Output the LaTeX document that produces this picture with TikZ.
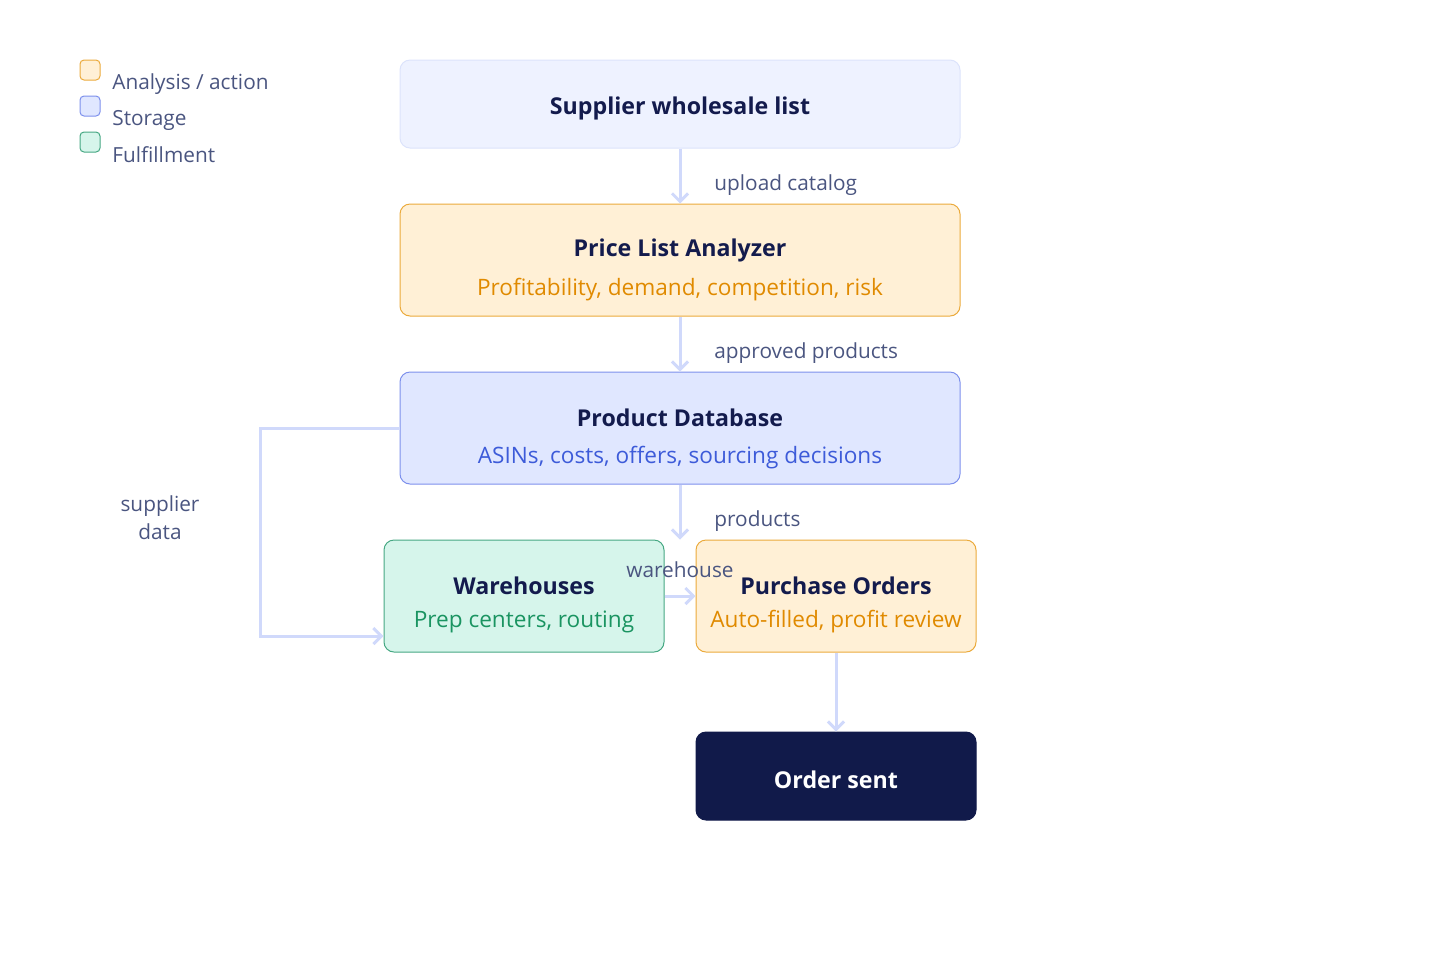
\documentclass[tikz,border=0pt]{standalone}
\usepackage{fontspec}
\setmainfont{Open Sans}
\usetikzlibrary{arrows.meta}
\definecolor{ink}{HTML}{131B4D}
\definecolor{muted}{HTML}{4A5580}
\definecolor{flow}{HTML}{D0D9FB}
\definecolor{orangefill}{HTML}{FFF0D6}
\definecolor{orangeline}{HTML}{EBAA3C}
\definecolor{orangetext}{HTML}{E08A00}
\definecolor{bluefill}{HTML}{E0E7FF}
\definecolor{blueline}{HTML}{7D90EC}
\definecolor{bluetext}{HTML}{3D5BD9}
\definecolor{greenfill}{HTML}{D6F5EB}
\definecolor{greenline}{HTML}{46A883}
\definecolor{greentext}{HTML}{1A9461}
\definecolor{palefill}{HTML}{EEF2FF}
\definecolor{paleline}{HTML}{DCE3FB}
\definecolor{navy}{HTML}{111A4A}
\begin{document}
\begin{tikzpicture}[
    x=0.5pt, y=-0.5pt,
    every node/.style={inner sep=0pt},
    box/.style={draw, rounded corners=5pt, line width=0.5pt},
    title/.style={font=\fontsize{11.6}{14}\selectfont\bfseries, text=ink},
    sub/.style={font=\fontsize{11.3}{13}\selectfont},
    lbl/.style={font=\fontsize{10.4}{14}\selectfont, text=muted},
    flowline/.style={draw=flow, line width=1.5pt, -{Straight Barb[length=4pt,width=8pt]}}
]
\useasboundingbox (0,0) rectangle (1440,960);

% Legend
\node[box, fill=orangefill, draw=orangeline, minimum size=10pt, rounded corners=2pt] (k1) at (90,70) {};
\node[box, fill=bluefill, draw=blueline, minimum size=10pt, rounded corners=2pt] (k2) at (90,106) {};
\node[box, fill=greenfill, draw=greenline, minimum size=10pt, rounded corners=2pt] (k3) at (90,142) {};
\node[lbl, anchor=west] (k1t) at (112,84) {Analysis / action};
\node[lbl, anchor=west] (k2t) at (112,120) {Storage};
\node[lbl, anchor=west] (k3t) at (112,155) {Fulfillment};

% Boxes
\node[box, fill=palefill, draw=paleline, minimum width=280pt, minimum height=44pt] (supplier) at (680,104) {};
\node[box, fill=orangefill, draw=orangeline, minimum width=280pt, minimum height=56pt] (analyzer) at (680,260) {};
\node[box, fill=bluefill, draw=blueline, minimum width=280pt, minimum height=56pt] (database) at (680,428) {};
\node[box, fill=greenfill, draw=greenline, minimum width=140pt, minimum height=56pt] (warehouses) at (524,596) {};
\node[box, fill=orangefill, draw=orangeline, minimum width=140pt, minimum height=56pt] (orders) at (836,596) {};
\node[box, fill=navy, draw=navy, minimum width=140pt, minimum height=44pt] (sent) at (836,776) {};

% Box texts
\node[title] (supplierT) at (680,108) {Supplier wholesale list};
\node[title] (analyzerT) at (680,250) {Price List Analyzer};
\node[sub, text=orangetext] (analyzerS) at (680,290) {Profitability, demand, competition, risk};
\node[title] (databaseT) at (680,418) {Product Database};
\node[sub, text=bluetext] (databaseS) at (680,458) {ASINs, costs, offers, sourcing decisions};
\node[title] (warehousesT) at (524,586) {Warehouses};
\node[sub, text=greentext] (warehousesS) at (524,622) {Prep centers, routing};
\node[title] (ordersT) at (836,586) {Purchase Orders};
\node[sub, text=orangetext] (ordersS) at (836,622) {Auto-filled, profit review};
\node[title, text=white] (sentT) at (836,780) {Order sent};

% Connectors
\draw[flowline] (supplier) -- (analyzer);
\draw[flowline] (analyzer) -- (database);
\draw[flowline] (database.south) -- (database.south |- warehouses.north);
\draw[flowline] (warehouses) -- (orders);
\draw[flowline] (orders) -- (sent);
\draw[flowline] (database.west) -- (260,428) -- (260,636) -- (warehouses.west |- 0,636);

% Connector labels
\node[lbl, anchor=west] (l1) at (714,185) {upload catalog};
\node[lbl, anchor=west] (l2) at (714,353) {approved products};
\node[lbl, anchor=west] (l3) at (714,521) {products};
\node[lbl] (l4) at (680,570) {warehouse};
\node[lbl, align=center] (l5) at (160,518) {supplier\\data};
\end{tikzpicture}
\end{document}
